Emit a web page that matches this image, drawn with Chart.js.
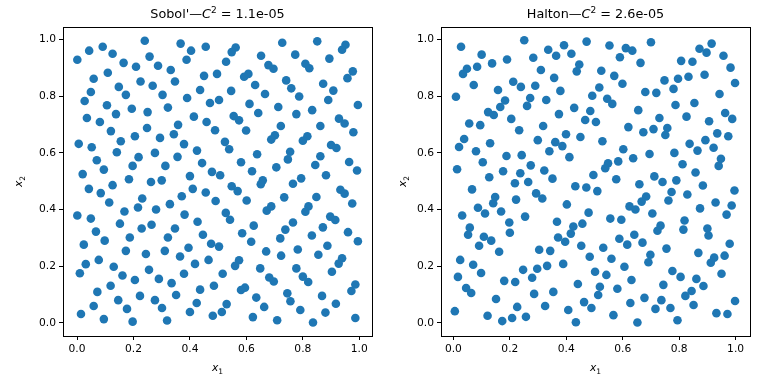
<!DOCTYPE html>
<html>
<head>
<meta charset="utf-8">
<script src="https://cdn.jsdelivr.net/npm/chart.js"></script>
<style>
  html, body { margin: 0; padding: 0; background: #fff; }
  #wrap { position: relative; width: 768px; height: 384px; }
  canvas { position: absolute; top: 0; }
</style>
</head>
<body>
<div id="wrap">
  <canvas id="sobolChart" width="384" height="384" style="left:0"></canvas>
  <canvas id="haltonChart" width="384" height="384" style="left:384px"></canvas>
</div>
<script>
const tickValues = [0, 0.2, 0.4, 0.6, 0.8, 1.0];
const sobolTitle = ["Sobol'", "1.1e-05"];
const haltonTitle = ["Halton", "2.6e-05"];

// 256 scrambled Sobol' points
const sobolXY = [
  [0.240,0.996],[0.367,0.986],[0.456,0.975],[0.091,0.975],[0.043,0.961],[0.404,0.961],[0.126,0.950],[0.001,0.929],[0.257,0.940],[0.388,0.929],
  [0.165,0.918],[0.209,0.904],[0.287,0.908],[0.332,0.893],[0.109,0.883],[0.059,0.862],[0.450,0.872],[0.225,0.852],[0.347,0.852],[0.148,0.833],
  [0.268,0.837],[0.049,0.815],[0.436,0.822],[0.173,0.805],[0.303,0.805],[0.027,0.783],[0.390,0.794],[0.471,0.776],[0.106,0.768],[0.194,0.756],
  [0.322,0.760],[0.250,0.744],[0.138,0.737],[0.035,0.723],[0.414,0.728],[0.081,0.709],[0.459,0.709],[0.358,0.699],[0.248,0.688],[0.120,0.677],
  [0.489,0.680],[0.205,0.659],[0.343,0.666],[0.294,0.653],[0.155,0.641],[0.006,0.632],[0.379,0.631],[0.052,0.620],[0.425,0.608],[0.141,0.602],
  [0.276,0.600],[0.218,0.585],[0.356,0.586],[0.070,0.574],[0.443,0.564],[0.197,0.554],[0.313,0.554],[0.095,0.541],[0.020,0.525],[0.478,0.533],
  [0.400,0.518],[0.184,0.507],[0.300,0.503],
  [0.727,0.989],[0.851,0.994],[0.951,0.982],[0.939,0.964],[0.562,0.972],[0.548,0.956],[0.773,0.947],[0.652,0.943],[0.894,0.933],[0.528,0.922],
  [0.678,0.910],[0.696,0.897],[0.809,0.915],[0.823,0.899],[0.496,0.879],[0.607,0.879],[0.592,0.869],[0.977,0.888],[0.958,0.864],[0.741,0.856],
  [0.872,0.844],[0.631,0.840],[0.759,0.828],[0.908,0.820],[0.546,0.819],[0.666,0.808],[0.787,0.799],[0.503,0.787],[0.890,0.787],[0.611,0.773],
  [0.713,0.762],[0.995,0.769],[0.833,0.751],[0.777,0.737],[0.642,0.741],[0.555,0.730],[0.574,0.715],[0.928,0.721],[0.948,0.704],[0.722,0.695],
  [0.862,0.695],[0.599,0.679],[0.979,0.673],[0.701,0.662],[0.688,0.647],[0.816,0.659],[0.800,0.643],[0.524,0.639],[0.539,0.613],[0.900,0.628],
  [0.919,0.617],[0.638,0.595],[0.755,0.604],[0.747,0.577],[0.862,0.588],[0.581,0.567],[0.964,0.568],[0.844,0.557],[0.706,0.549],[0.620,0.535],
  [0.992,0.538],[0.507,0.521],[0.882,0.521],[0.794,0.510],[0.658,0.503],
  [0.042,0.473],[0.084,0.458],[0.126,0.486],[0.262,0.497],[0.410,0.473],[0.456,0.460],[0.231,0.439],[0.114,0.425],[0.491,0.430],[0.371,0.447],
  [0.329,0.419],[0.216,0.407],[0.280,0.400],[0.168,0.393],[0.001,0.379],[0.049,0.368],[0.381,0.382],[0.152,0.350],[0.427,0.357],[0.264,0.346],
  [0.229,0.333],[0.347,0.333],[0.067,0.322],[0.446,0.311],[0.187,0.301],[0.322,0.301],[0.098,0.290],[0.475,0.279],[0.024,0.276],[0.395,0.265],
  [0.173,0.254],[0.311,0.254],[0.244,0.243],[0.365,0.234],[0.466,0.222],[0.077,0.222],[0.418,0.208],[0.031,0.207],[0.130,0.198],[0.255,0.187],
  [0.010,0.175],[0.379,0.173],[0.161,0.167],[0.205,0.151],[0.290,0.155],[0.335,0.140],[0.119,0.131],[0.485,0.131],[0.436,0.117],[0.072,0.109],
  [0.351,0.098],[0.223,0.095],[0.146,0.080],[0.276,0.080],[0.424,0.070],[0.059,0.059],[0.301,0.052],[0.177,0.049],[0.400,0.038],[0.014,0.031],
  [0.481,0.025],[0.095,0.013],[0.197,0.004],[0.319,0.008],
  [0.651,0.489],[0.765,0.491],[0.548,0.482],[0.569,0.465],[0.933,0.470],[0.948,0.456],[0.601,0.432],[0.734,0.443],[0.848,0.444],[0.975,0.421],
  [0.672,0.396],[0.688,0.411],[0.820,0.411],[0.809,0.392],[0.527,0.388],[0.542,0.364],[0.897,0.375],[0.915,0.363],[0.765,0.354],[0.626,0.343],
  [0.738,0.329],[0.871,0.337],[0.585,0.316],[0.960,0.320],[0.832,0.308],[0.617,0.286],[0.720,0.298],[0.995,0.288],[0.503,0.269],[0.887,0.272],
  [0.670,0.252],[0.782,0.259],[0.723,0.237],[0.855,0.240],[0.939,0.228],[0.927,0.209],[0.574,0.221],[0.560,0.201],[0.649,0.192],[0.777,0.192],
  [0.903,0.180],[0.516,0.173],[0.681,0.160],[0.697,0.146],[0.800,0.163],[0.819,0.144],[0.986,0.135],[0.972,0.112],[0.595,0.124],[0.581,0.116],
  [0.745,0.104],[0.756,0.076],[0.868,0.095],[0.635,0.089],[0.530,0.066],[0.917,0.067],[0.663,0.056],[0.513,0.038],[0.791,0.045],[0.880,0.036],
  [0.623,0.020],[0.709,0.009],[0.836,0.001],[0.986,0.017]
];

// 256 scrambled Halton points
const haltonXY = [
  [0.251,0.998],[0.472,0.993],[0.027,0.975],[0.392,0.980],[0.336,0.964],[0.418,0.950],[0.364,0.943],[0.100,0.947],[0.283,0.936],[0.190,0.930],
  [0.137,0.916],[0.446,0.912],[0.437,0.888],[0.048,0.897],[0.034,0.879],[0.084,0.904],[0.310,0.893],[0.357,0.865],[0.212,0.851],[0.239,0.833],
  [0.290,0.837],[0.072,0.840],[0.158,0.822],[0.379,0.819],[0.009,0.798],[0.272,0.794],[0.492,0.802],[0.329,0.787],[0.183,0.785],[0.166,0.762],
  [0.261,0.766],[0.123,0.744],[0.143,0.734],[0.428,0.759],[0.485,0.748],[0.374,0.737],[0.205,0.720],[0.467,0.716],[0.056,0.704],[0.095,0.698],
  [0.318,0.695],[0.233,0.680],[0.038,0.649],[0.399,0.666],[0.450,0.656],[0.299,0.645],[0.361,0.638],[0.386,0.624],[0.130,0.634],[0.020,0.621],
  [0.340,0.606],[0.080,0.606],[0.188,0.589],[0.242,0.592],[0.411,0.585],[0.104,0.567],[0.274,0.556],[0.013,0.542],[0.322,0.538],[0.176,0.535],
  [0.237,0.528],[0.127,0.514],[0.496,0.522],[0.351,0.509],
  [0.553,0.979],[0.611,0.970],[0.634,0.961],[0.590,0.938],[0.700,0.991],[0.872,0.968],[0.915,0.986],[0.897,0.954],[0.957,0.943],[0.663,0.918],
  [0.807,0.925],[0.847,0.922],[0.982,0.901],[0.524,0.890],[0.570,0.872],[0.599,0.844],[0.890,0.876],[0.833,0.869],[0.796,0.862],[0.748,0.856],
  [0.998,0.847],[0.517,0.831],[0.680,0.815],[0.719,0.812],[0.780,0.826],[0.545,0.791],[0.563,0.773],[0.943,0.808],[0.787,0.769],[0.854,0.776],
  [0.655,0.751],[0.730,0.723],[0.826,0.728],[0.963,0.741],[0.988,0.720],[0.505,0.709],[0.620,0.691],[0.673,0.673],[0.709,0.684],[0.758,0.688],
  [0.751,0.663],[0.906,0.712],[0.935,0.669],[0.974,0.659],[0.528,0.641],[0.837,0.632],[0.893,0.645],[0.865,0.608],[0.922,0.618],[0.602,0.613],
  [0.695,0.596],[0.783,0.600],[0.637,0.581],[0.948,0.579],[0.584,0.570],[0.548,0.563],[0.538,0.546],[0.812,0.560],[0.940,0.554],[0.858,0.531],
  [0.712,0.517],[0.577,0.507],[0.790,0.503],
  [0.218,0.493],[0.265,0.497],[0.066,0.471],[0.432,0.482],[0.471,0.478],[0.293,0.457],[0.315,0.439],[0.148,0.444],[0.141,0.422],[0.222,0.435],
  [0.402,0.418],[0.087,0.406],[0.112,0.386],[0.169,0.393],[0.479,0.389],[0.031,0.379],[0.254,0.375],[0.198,0.354],[0.367,0.357],[0.457,0.350],
  [0.058,0.336],[0.052,0.311],[0.425,0.340],[0.416,0.315],[0.200,0.318],[0.108,0.304],[0.134,0.290],[0.371,0.301],[0.396,0.286],[0.091,0.272],
  [0.453,0.272],[0.304,0.258],[0.343,0.254],[0.162,0.251],[0.483,0.233],[0.024,0.222],[0.070,0.205],[0.389,0.208],[0.332,0.201],[0.247,0.187],
  [0.297,0.191],[0.098,0.176],[0.016,0.162],[0.279,0.159],[0.180,0.148],[0.219,0.144],[0.441,0.137],[0.045,0.123],[0.063,0.105],[0.286,0.102],
  [0.354,0.109],[0.151,0.084],[0.463,0.073],[0.226,0.056],[0.325,0.059],[0.489,0.052],[0.407,0.045],[0.005,0.041],[0.121,0.025],[0.257,0.021],
  [0.208,0.017],[0.173,0.006],[0.434,0.002],
  [0.659,0.489],[0.741,0.497],[0.884,0.485],[0.996,0.467],[0.510,0.465],[0.773,0.462],[0.829,0.453],[0.762,0.432],[0.683,0.446],[0.667,0.428],
  [0.624,0.411],[0.645,0.400],[0.929,0.425],[0.986,0.414],[0.874,0.404],[0.968,0.382],[0.705,0.386],[0.556,0.368],[0.595,0.364],[0.819,0.361],
  [0.815,0.329],[0.734,0.343],[0.723,0.325],[0.900,0.333],[0.904,0.308],[0.588,0.297],[0.641,0.311],[0.670,0.283],[0.616,0.276],[0.979,0.279],
  [0.755,0.262],[0.531,0.265],[0.868,0.247],[0.961,0.237],[0.924,0.230],[0.912,0.212],[0.698,0.240],[0.691,0.214],[0.560,0.226],[0.606,0.198],
  [0.502,0.180],[0.542,0.169],[0.776,0.183],[0.805,0.162],[0.950,0.173],[0.631,0.151],[0.861,0.155],[0.886,0.130],[0.519,0.127],[0.581,0.120],
  [0.744,0.134],[0.844,0.112],[0.822,0.095],[0.513,0.098],[0.677,0.088],[0.737,0.080],[0.627,0.070],[0.851,0.063],[0.998,0.077],[0.716,0.049],
  [0.769,0.052],[0.932,0.034],[0.971,0.031],[0.567,0.027],[0.652,0.001],[0.794,0.009]
];

const FONT = "'DejaVu Sans', sans-serif";
const BLUE = '#1f77b4';

// draw a row of text pieces centred on (x, y), optionally rotated
function drawMath(ctx, parts, x, y, angle) {
  ctx.save();
  ctx.translate(x, y);
  if (angle) ctx.rotate(angle);
  let w = 0;
  parts.forEach(p => { ctx.font = p.font; p.w = ctx.measureText(p.t).width; w += p.w; });
  let cx = -w / 2;
  ctx.fillStyle = '#000';
  ctx.textAlign = 'left';
  ctx.textBaseline = 'alphabetic';
  parts.forEach(p => { ctx.font = p.font; ctx.fillText(p.t, cx, p.dy || 0); cx += p.w; });
  ctx.restore();
}

const decor = {
  id: 'decor',
  afterDraw(chart, args, opts) {
    const ctx = chart.ctx, a = chart.chartArea;
    ctx.save();
    ctx.strokeStyle = '#000';
    ctx.lineWidth = 1;
    ctx.strokeRect(a.left + 0.5, a.top + 0.5, a.right - a.left, a.bottom - a.top);
    ctx.restore();
    const mid = (a.left + a.right) / 2;
    drawMath(ctx, [
      { t: opts.name + '\u2014', font: '12.8px ' + FONT },
      { t: 'C', font: 'italic 12.8px ' + FONT },
      { t: '2', font: '9px ' + FONT, dy: -5 },
      { t: ' = ' + opts.disc, font: '12.8px ' + FONT }
    ], mid, 18);
    drawMath(ctx, [
      { t: 'x', font: 'italic 10.7px ' + FONT },
      { t: '1', font: '7.5px ' + FONT, dy: 2.5 }
    ], mid, 371);
    drawMath(ctx, [
      { t: 'x', font: 'italic 10.7px ' + FONT },
      { t: '2', font: '7.5px ' + FONT, dy: 2.5 }
    ], 22, (a.top + a.bottom) / 2, -Math.PI / 2);
  }
};

function axis(min, max, fit) {
  return {
    type: 'linear',
    min: min,
    max: max,
    afterBuildTicks: s => { s.ticks = tickValues.map(v => ({ value: v })); },
    afterFit: fit,
    border: { display: false },
    grid: { drawOnChartArea: false, drawTicks: true, tickLength: 4, color: '#000', lineWidth: 1 },
    ticks: {
      padding: 3,
      color: '#000',
      autoSkip: false,
      maxRotation: 0,
      font: { family: FONT, size: 10.7 },
      callback: v => v.toFixed(1)
    }
  };
}

function makeChart(id, points, title, xr, yWidth, padRight) {
  new Chart(document.getElementById(id), {
    type: 'scatter',
    data: {
      datasets: [{
        data: points.map(p => ({ x: p[0], y: p[1] })),
        backgroundColor: BLUE,
        borderWidth: 0,
        pointRadius: 4.3,
        pointHoverRadius: 4.3
      }]
    },
    options: {
      responsive: false,
      animation: false,
      devicePixelRatio: 1,
      events: [],
      layout: { padding: { left: 0, right: padRight, top: 27, bottom: 0 } },
      scales: {
        x: axis(xr[0], xr[1], s => { s.height = 48; }),
        y: axis(-0.0467, 1.0446, s => { s.width = yWidth; })
      },
      plugins: {
        legend: { display: false },
        tooltip: { enabled: false },
        decor: { name: title[0], disc: title[1] }
      }
    },
    plugins: [decor]
  });
}

makeChart('sobolChart', sobolXY, sobolTitle, [-0.0497, 1.045], 63, 12);
makeChart('haltonChart', haltonXY, haltonTitle, [-0.044, 1.051], 57, 18);
</script>
</body>
</html>
